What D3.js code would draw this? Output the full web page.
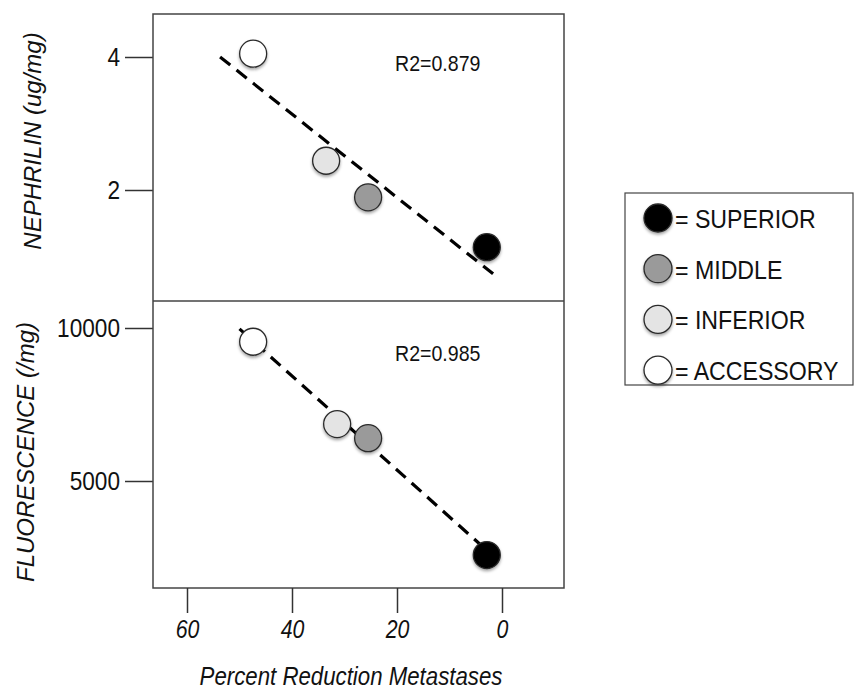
<!DOCTYPE html>
<html>
<head>
<meta charset="utf-8">
<script src="https://cdn.jsdelivr.net/npm/d3@7"></script>
<style>
  body { margin: 0; background: #fff; }
  text { font-family: "Liberation Sans", Arial, sans-serif; fill: #111; }
</style>
</head>
<body>
<div id="chart"></div>
<script>
// data
var regions = ["SUPERIOR", "MIDDLE", "INFERIOR", "ACCESSORY"];
var regionFill = ["#000000", "#9a9a9a", "#e4e4e4", "#ffffff"];

var reduction = [2.9, 25.5, 33.5, 47.4];          // percent reduction metastases
var reductionFluo = [2.9, 25.5, 31.4, 47.4];
var nephrilin = [1.14, 1.89, 2.44, 4.05];          // ug/mg
var fluorescence = [2580, 6400, 6860, 9550];       // /mg

var nephFit = [[53.7, 4.0], [1.7, 0.74]];
var fluoFit = [[50, 9970], [3, 2750]];

var xTicks = [60, 40, 20, 0];
var nephTicks = [2, 4];
var fluoTicks = [5000, 10000];

var svgWidth = 855;
var svgHeight = 689;

var box = { left: 153, right: 564, top: 14, mid: 301, bottom: 588 };

var svg = d3.select("#chart")
  .append("svg")
  .attr("width", svgWidth)
  .attr("height", svgHeight);

// the source uses a narrow face, so squeeze the glyphs horizontally around their anchor
function squeeze(sel, factor) {
  sel.each(function() {
    var ax = +d3.select(this).attr("x") || 0;
    d3.select(this)
      .attr("transform", `translate(${ax},0) scale(${factor},1) translate(${-ax},0)`);
  });
}

// soft shadow under circles
var defs = svg.append("defs");
var shadow = defs.append("filter").attr("id", "shadow")
  .attr("x", "-50%").attr("y", "-50%").attr("width", "200%").attr("height", "200%");
shadow.append("feDropShadow")
  .attr("dx", 0).attr("dy", 2).attr("stdDeviation", 1.6)
  .attr("flood-color", "#000").attr("flood-opacity", 0.35);

var xScale = d3.scaleLinear().domain([60, 0]).range([187, 502]);
var yNeph = d3.scaleLinear().domain([2, 4]).range([190, 57]);
var yFluo = d3.scaleLinear().domain([5000, 10000]).range([481, 328]);

function drawPanel(yScale, xs, ys, fit, ticks, r2, r2y, title, titleY, titleX) {
  var g = svg.append("g");

  var leftAxis = d3.axisLeft(yScale)
    .tickValues(ticks)
    .tickSize(28)
    .tickPadding(5)
    .tickFormat(d3.format("d"));

  var ax = g.append("g")
    .attr("transform", `translate(${box.left}, 0)`)
    .call(leftAxis);
  ax.select(".domain").remove();
  ax.selectAll("line").attr("stroke", "#333").attr("stroke-width", 1.5);
  ax.selectAll("text")
    .attr("font-size", 26)
    .attr("font-family", null)
    .attr("fill", "#111")
    .call(squeeze, 0.87);

  // regression line
  g.append("line")
    .attr("x1", xScale(fit[0][0]))
    .attr("y1", yScale(fit[0][1]))
    .attr("x2", xScale(fit[1][0]))
    .attr("y2", yScale(fit[1][1]))
    .attr("stroke", "#000")
    .attr("stroke-width", 3.2)
    .attr("stroke-dasharray", "13,8");

  // points, drawn from superior to accessory
  g.selectAll("circle")
    .data(regions)
    .enter()
    .append("circle")
    .attr("cx", (d, i) => xScale(xs[i]))
    .attr("cy", (d, i) => yScale(ys[i]))
    .attr("r", 13.5)
    .attr("fill", (d, i) => regionFill[i])
    .attr("stroke", "#2a2a2a")
    .attr("stroke-width", 1.3)
    .attr("filter", "url(#shadow)");

  g.append("text")
    .attr("x", 395)
    .attr("y", r2y)
    .attr("font-size", 22)
    .text(r2)
    .call(squeeze, 0.89);

  g.append("text")
    .attr("transform", `translate(${titleX}, ${titleY}) rotate(-90)`)
    .attr("text-anchor", "middle")
    .attr("font-size", 24)
    .attr("font-style", "italic")
    .text(title);
}

drawPanel(yNeph, reduction, nephrilin, nephFit, nephTicks, "R2=0.879", 71, "NEPHRILIN (ug/mg)", 141, 41);
drawPanel(yFluo, reductionFluo, fluorescence, fluoFit, fluoTicks, "R2=0.985", 361, "FLUORESCENCE (/mg)", 452, 34);

// panel frames
svg.append("rect")
  .attr("x", box.left).attr("y", box.top)
  .attr("width", box.right - box.left).attr("height", box.bottom - box.top)
  .attr("fill", "none").attr("stroke", "#444").attr("stroke-width", 1.5);
svg.append("line")
  .attr("x1", box.left).attr("x2", box.right)
  .attr("y1", box.mid).attr("y2", box.mid)
  .attr("stroke", "#444").attr("stroke-width", 1.5);

// x axis below the lower panel
var bottomAxis = d3.axisBottom(xScale)
  .tickValues(xTicks)
  .tickSize(25)
  .tickPadding(7);
var xAx = svg.append("g")
  .attr("transform", `translate(0, ${box.bottom})`)
  .call(bottomAxis);
xAx.select(".domain").remove();
xAx.selectAll("line").attr("stroke", "#333").attr("stroke-width", 1.5);
xAx.selectAll("text")
  .attr("font-size", 26)
  .attr("font-style", "italic")
  .attr("font-family", null)
  .attr("fill", "#111")
  .call(squeeze, 0.82);

svg.append("text")
  .attr("x", 351)
  .attr("y", 685)
  .attr("text-anchor", "middle")
  .attr("font-size", 25)
  .attr("font-style", "italic")
  .text("Percent Reduction Metastases")
  .call(squeeze, 0.89);

// legend
var legend = svg.append("g");
legend.append("rect")
  .attr("x", 625).attr("y", 193)
  .attr("width", 228).attr("height", 192)
  .attr("fill", "#fff").attr("stroke", "#444").attr("stroke-width", 1.2);

var items = legend.selectAll("g.item")
  .data(regions)
  .enter()
  .append("g")
  .attr("transform", (d, i) => `translate(658, ${218 + i * 50.7})`);
items.append("circle")
  .attr("r", 14)
  .attr("fill", (d, i) => regionFill[i])
  .attr("stroke", "#2a2a2a")
  .attr("stroke-width", 1.3)
  .attr("filter", "url(#shadow)");
items.append("text")
  .attr("x", 17)
  .attr("y", 10)
  .attr("font-size", 26)
  .text(d => "= " + d)
  .call(squeeze, 0.89);
</script>
</body>
</html>
